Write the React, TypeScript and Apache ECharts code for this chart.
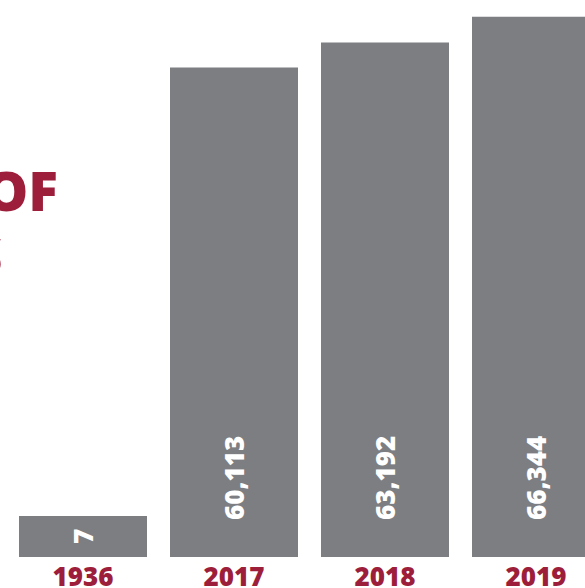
import React, { useEffect, useRef } from "react";
import * as echarts from "echarts";

const years = ["1936", "2017", "2018", "2019"];
const counts = [7, 60113, 63192, 66344];
const titleLines = ["OF", "S"];

const RED = "#9c1e3a";
const GRAY = "#7d7e82";
const FONT = "'Open Sans', 'Noto Sans', sans-serif";

export default function App() {
  const ref = useRef<HTMLDivElement>(null);
  useEffect(() => {
    document.body.style.margin = "0";
    const chart = echarts.init(ref.current!, null, { renderer: "svg" });
    const fmt = (v: number) => v.toLocaleString("en-US");
    chart.setOption({
      animation: false,
      grid: {
        left: 7.5,
        top: 0,
        right: -26.5,
        bottom: 31,
        containLabel: false,
        outerBoundsMode: "none",
      },
      xAxis: {
        type: "category",
        data: years,
        axisLine: { show: false },
        axisTick: { show: false },
        axisLabel: {
          color: RED,
          fontFamily: FONT,
          fontWeight: 800,
          fontSize: 26,
          lineHeight: 26,
          margin: 6,
        },
      },
      yAxis: { type: "value", min: 0, max: 68400, show: false, splitLine: { show: false } },
      series: [
        {
          type: "bar",
          barWidth: 128,
          barMinHeight: 41,
          itemStyle: { color: GRAY },
          data: counts.map((v, i) =>
            i === 0
              ? {
                  value: v,
                  label: {
                    position: "inside",
                    align: "center",
                    verticalAlign: "middle",
                    distance: 0,
                  },
                }
              : v
          ),
          label: {
            show: true,
            position: "insideBottom",
            rotate: 90,
            align: "left",
            verticalAlign: "middle",
            distance: 37,
            color: "#ffffff",
            fontFamily: FONT,
            fontWeight: 800,
            fontSize: 26,
            formatter: (p: any) => fmt(p.value),
          },
        },
      ],
      graphic: [
        {
          type: "text",
          x: 58,
          y: 162,
          style: {
            text: titleLines[0],
            fill: RED,
            font: `800 55px ${FONT}`,
            textAlign: "right",
            textVerticalAlign: "top",
          },
        },
        {
          type: "text",
          x: 2.5,
          y: 227,
          style: {
            text: titleLines[1],
            fill: RED,
            font: `800 55px ${FONT}`,
            textAlign: "right",
            textVerticalAlign: "top",
          },
        },
      ],
    });
    return () => chart.dispose();
  }, []);
  return <div ref={ref} style={{ width: 585, height: 588 }} />;
}
